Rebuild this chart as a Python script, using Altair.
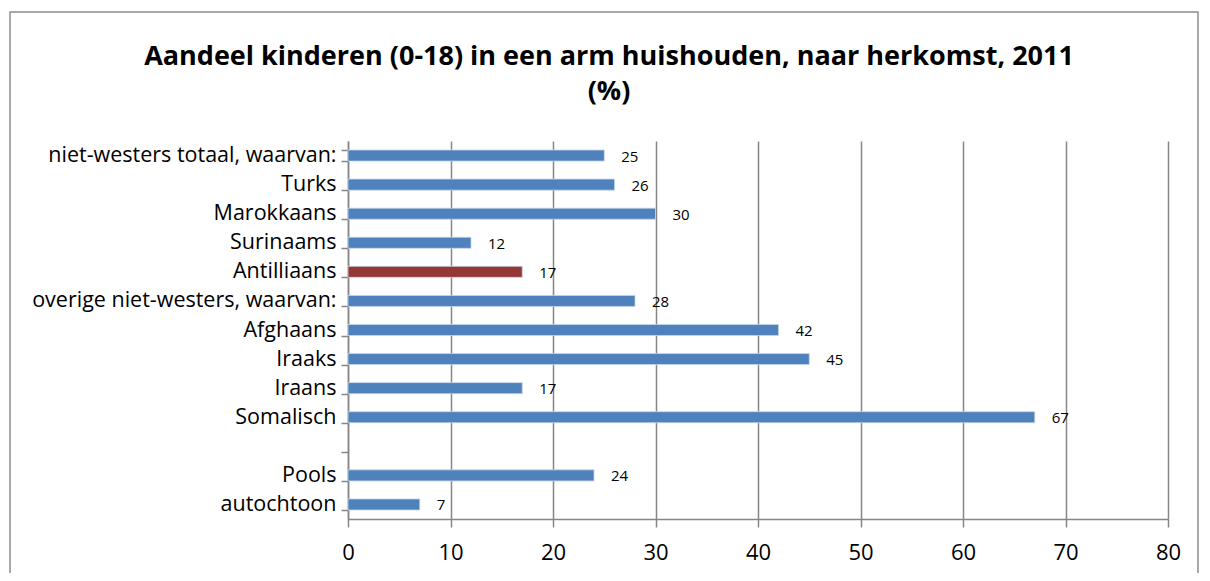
import altair as alt
import pandas as pd

categories = [
    "niet-westers totaal, waarvan:", "Turks", "Marokkaans", "Surinaams",
    "Antilliaans", "overige niet-westers, waarvan:", "Afghaans", "Iraaks",
    "Iraans", "Somalisch", " ", "Pools", "autochtoon",
]
values = [25, 26, 30, 12, 17, 28, 42, 45, 17, 67, None, 24, 7]
highlight = [False, False, False, False, True, False, False, False, False, False, False, False, False]

df = pd.DataFrame({"cat": categories, "val": values, "hl": highlight})
df_bars = df.dropna()

FONT = "Open Sans"
GRID = "#868686"

y_enc = alt.Y(
    "cat:N", sort=categories, title=None,
    scale=alt.Scale(domain=categories, paddingInner=0.62, paddingOuter=0.31),
    axis=alt.Axis(tickBand="extent", grid=False, tickSize=7, tickColor=GRID, tickWidth=1.5,
                  domainColor=GRID, domainWidth=1.5, labelFont=FONT, labelFontSize=21.5,
                  labelColor="black", labelPadding=5, labelLimit=400),
)
x_enc = alt.X(
    "val:Q", title=None,
    scale=alt.Scale(domain=[0, 80], nice=False),
    axis=alt.Axis(values=list(range(0, 90, 10)), grid=True, gridColor=GRID, gridWidth=1.5,
                  gridOpacity=1, tickSize=8, tickColor=GRID, tickWidth=1.5, domainColor=GRID,
                  domainWidth=1.5, labelFont=FONT, labelFontSize=22, labelColor="black",
                  labelPadding=15, labelFlush=False),
)

bars = alt.Chart(df_bars).mark_bar(stroke="#c6d6ea", strokeWidth=0.8).encode(
    y=y_enc, x=x_enc,
    color=alt.Color("hl:N", scale=alt.Scale(domain=[False, True], range=["#4f81bd", "#953735"]),
                    legend=None),
)
labels = alt.Chart(df_bars).mark_text(align="left", baseline="middle", dx=17, dy=1, font=FONT,
                                       fontSize=15, color="black").encode(
    y=alt.Y("cat:N", sort=categories), x="val:Q", text=alt.Text("val:Q", format="d"),
)
border = alt.Chart(alt.Data(values=[{}])).mark_rect(
    fill="transparent", stroke="#8c8c8c", strokeWidth=1.5
).encode(x=alt.value(-338), x2=alt.value(850), y=alt.value(-129), y2=alt.value(500))

chart = alt.layer(bars, labels, border).properties(
    width=820, height=378,
    title=alt.TitleParams(
        ["Aandeel kinderen (0-18) in een arm huishouden, naar herkomst, 2011", "(%)"],
        font=FONT, fontSize=27, fontWeight="bold", color="black", anchor="middle",
        offset=0, dx=-149, dy=95, lineHeight=35,
    ),
    autosize=alt.AutoSizeParams(type="none"),
    padding={"left": 340, "top": 133, "right": 34, "bottom": 54},
).configure_view(stroke=None)

chart.save("out.html", embed_options={"renderer": "svg", "actions": False})
